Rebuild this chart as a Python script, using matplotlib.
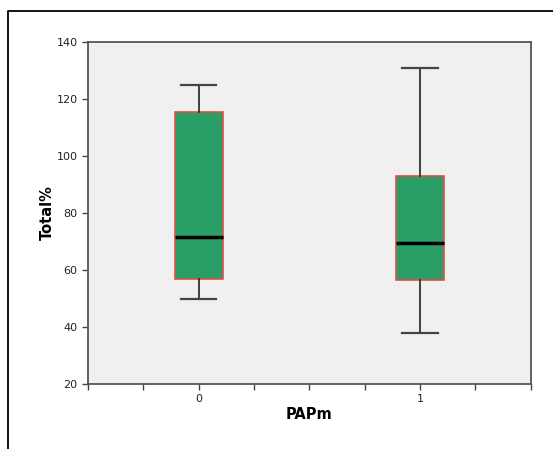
import matplotlib
matplotlib.use("Agg")
import matplotlib.pyplot as plt
from matplotlib.lines import Line2D

categories = ["0", "1"]
whisker_low = [50, 38]
q1 = [57, 56.5]
median = [71.5, 69.5]
q3 = [115.5, 93]
whisker_high = [125, 131]

fig = plt.figure(figsize=(5.53, 4.49), dpi=100)
fig.patch.set_facecolor("white")
ax = fig.add_axes([88/553, 1-384/449, (530.5-88)/553, (384-42)/449])
ax.set_facecolor("#f0f0f0")

stats = []
for i, c in enumerate(categories):
    stats.append(dict(label=c, whislo=whisker_low[i], q1=q1[i], med=median[i],
                      q3=q3[i], whishi=whisker_high[i], fliers=[]))

ax.bxp(stats, positions=list(range(len(categories))), widths=0.216,
       patch_artist=True, showfliers=False,
       boxprops=dict(facecolor="#2a9e66", edgecolor="#e0504a", linewidth=1.2),
       medianprops=dict(color="black", linewidth=2.5),
       whiskerprops=dict(color="#222222", linewidth=1.2),
       capprops=dict(color="#444444", linewidth=1.6),
       capwidths=0.16)

ax.set_xlim(-0.5, 1.5)
ax.set_ylim(20, 140)
ax.set_yticks(range(20, 141, 20))
ax.set_xticks([0, 1])
ax.set_xticklabels(categories)
ax.set_xticks([-0.5, -0.25, 0.25, 0.5, 0.75, 1.25, 1.5], minor=True)
ax.tick_params(axis="both", which="major", direction="out", length=4, width=1,
               color="#444444", labelsize=8, labelcolor="#222222")
ax.tick_params(axis="x", which="minor", direction="out", length=4, width=1, color="#444444")
for s in ax.spines.values():
    s.set_color("#555555")
    s.set_linewidth(1.3)

ax.set_ylabel("Total%", fontsize=10.5, fontweight="bold", labelpad=1)
ax.set_xlabel("PAPm", fontsize=10.5, fontweight="bold", labelpad=2)

# outer frame
fx = 8/553
fy = 1 - 11/449
fig.add_artist(Line2D([fx, fx, 1], [0, fy, fy], transform=fig.transFigure,
                      color="black", linewidth=1.3))

fig.savefig("out.png", dpi=100)
